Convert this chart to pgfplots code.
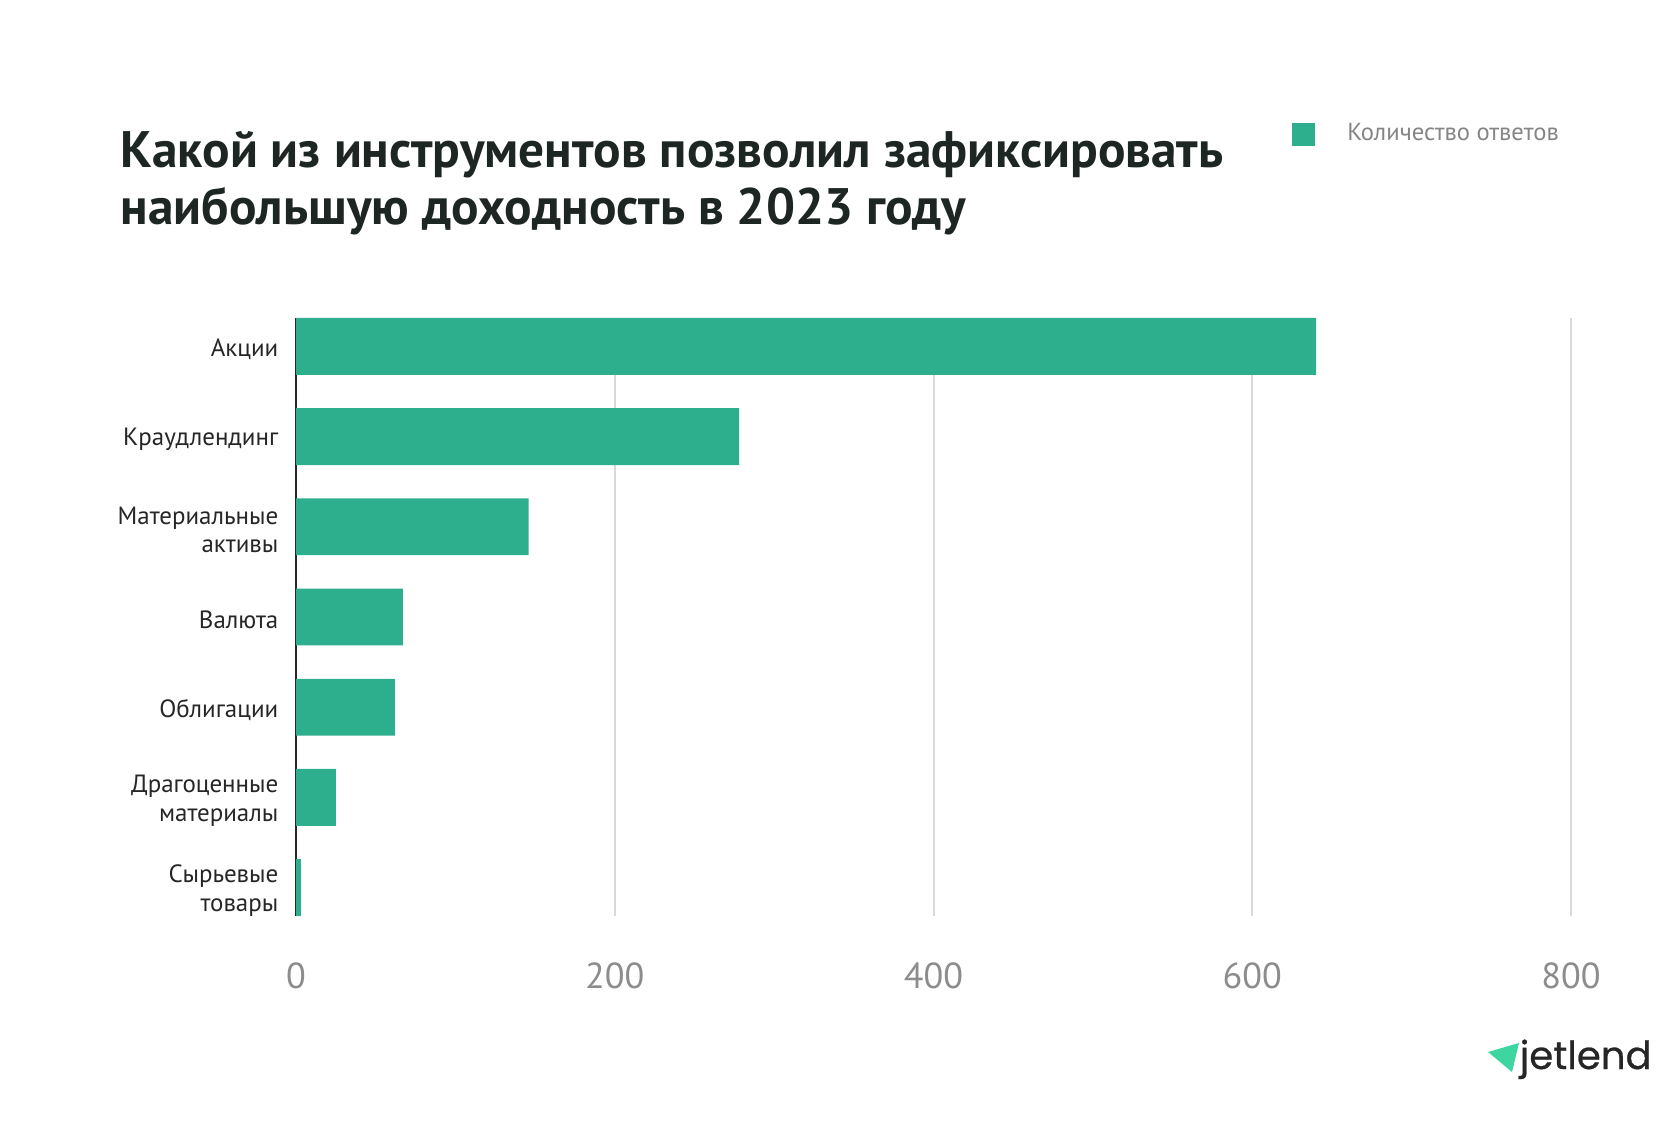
\documentclass[border=0pt]{standalone}
\usepackage{pgfplots}
\pgfplotsset{compat=1.18}
\usepackage{pgfplotstable}
\usepackage{fontspec}
\setmainfont{PT Sans}
\newfontfamily\logofont{Poppins}[FakeBold=0.6]

\definecolor{barcol}{HTML}{2DAE8C}
\definecolor{gridcol}{HTML}{D9D9D9}
\definecolor{tickcol}{HTML}{8C8C8C}
\definecolor{labelcol}{HTML}{262626}
\definecolor{titlecol}{HTML}{1E2623}
\definecolor{legcol}{HTML}{858585}
\definecolor{logogreen}{HTML}{3DD6A0}

% number of answers per instrument, top to bottom
\pgfplotstableread{
idx value
0 640
1 278
2 146
3 67
4 62
5 25
6 3
}\answers

\begin{document}
\begin{tikzpicture}[x=1mm,y=1mm]
\useasboundingbox (0,0) rectangle (168,114);

\node[anchor=base west, inner sep=0, text=titlecol,
  font=\fontsize{14.6}{17}\selectfont\bfseries] at (12,97.2)
  {Какой из инструментов позволил зафиксировать};
\node[anchor=base west, inner sep=0, text=titlecol,
  font=\fontsize{14.6}{17}\selectfont\bfseries] at (12,91.5)
  {наибольшую доходность в 2023 году};

\begin{axis}[
  at={(29.6mm,22.4mm)}, anchor=south west,
  scale only axis, width=127.5mm, height=59.8mm,
  xbar, bar width=0.63,
  xmin=0, xmax=800, xtick={0,200,...,800},
  ymin=-0.315, ymax=6.315, y dir=reverse,
  ytick={0,...,6},
  yticklabels={Акции, Краудлендинг, {Материальные\\активы}, Валюта,
    Облигации, {Драгоценные\\материалы}, {Сырьевые\\товары}},
  axis y line*=left, axis x line*=bottom,
  x axis line style={draw=none},
  y axis line style={labelcol, line width=0.2mm},
  major tick length=0pt,
  xmajorgrids, grid style={gridcol, line width=0.2mm},
  /pgf/number format/assume math mode=true,
  xticklabel style={font=\fontsize{10.3}{12}\selectfont, text=tickcol,
    inner sep=0pt, yshift=-4.6mm},
  yticklabel style={font=\fontsize{7.1}{8.2}\selectfont, text=labelcol,
    align=right, inner sep=0pt, xshift=-1.7mm, yshift=-0.3mm},
  legend style={at={(0.781,1.307)}, anchor=west, draw=none, fill=none,
    inner sep=0pt, nodes={inner sep=0pt, text=legcol,
    font=\fontsize{7}{8}\selectfont}},
  legend image code/.code={
    \fill[barcol] (0mm,-1.15mm) rectangle (2.3mm,1.15mm);
    \path (5.5mm,0mm);},
]
\addplot[fill=barcol, draw=none] table[x=value, y=idx] {\answers};
\addlegendentry{Количество ответов}
\end{axis}

% jetlend logo
\fill[logogreen] (148.8,8.8) -- (151.9,9.7) -- (151.2,6.8) -- cycle;
\node[anchor=base west, inner sep=0, text=labelcol,
  font=\logofont\fontsize{11}{13}\selectfont] at (151.9,7.1) {jetlend};
\end{tikzpicture}
\end{document}
